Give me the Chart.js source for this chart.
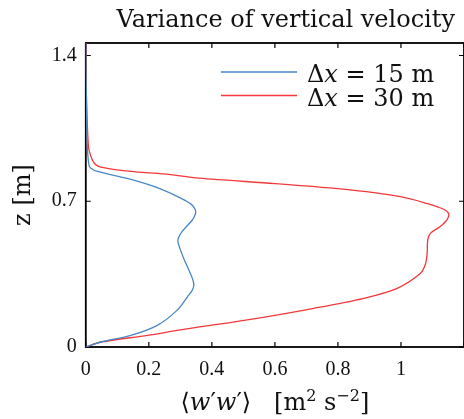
<!DOCTYPE html>
<html>
<head>
<meta charset="utf-8">
<script src="https://cdn.jsdelivr.net/npm/chart.js@4.4.1/dist/chart.umd.min.js"></script>
<style>
  html, body { margin: 0; padding: 0; background: #fff; }
  #wrap { width: 464px; height: 419px; }
</style>
</head>
<body>
<div id="wrap"><canvas id="varianceChart" width="464" height="419"></canvas></div>
<script>
// heights (m) and <w'w'> (m^2 s^-2), dx = 15 m run
var zFine = [0, 0.024, 0.056, 0.104, 0.177, 0.24, 0.273, 0.30, 0.33, 0.37, 0.42, 0.50, 0.525, 0.555, 0.61, 0.64, 0.66, 0.685, 0.715, 0.765, 0.805, 0.843, 0.86, 0.875, 0.93, 1.0, 1.1, 1.2, 1.3, 1.46];
var wwFine = [0, 0.048, 0.143, 0.227, 0.29, 0.322, 0.338, 0.343, 0.338, 0.327, 0.312, 0.293, 0.294, 0.306, 0.338, 0.348, 0.347, 0.335, 0.301, 0.227, 0.143, 0.037, 0.015, 0.01, 0.006, 0.004, 0.003, 0.002, 0.001, 0];

// dx = 30 m run
var zCoarse = [0, 0.024, 0.056, 0.082, 0.13, 0.186, 0.234, 0.282, 0.354, 0.40, 0.45, 0.515, 0.547, 0.579, 0.605, 0.627, 0.642, 0.658, 0.672, 0.688, 0.715, 0.74, 0.762, 0.785, 0.811, 0.831, 0.843, 0.864, 0.884, 0.948, 1.0, 1.1, 1.2, 1.3, 1.46];
var wwCoarse = [0, 0.048, 0.196, 0.30, 0.512, 0.724, 0.882, 0.988, 1.062, 1.078, 1.083, 1.085, 1.094, 1.125, 1.143, 1.151, 1.151, 1.14, 1.118, 1.085, 1.02, 0.92, 0.79, 0.6, 0.359, 0.248, 0.143, 0.048, 0.026, 0.01, 0.007, 0.004, 0.002, 0.001, 0];

var xTicks = [0, 0.2, 0.4, 0.6, 0.8, 1, 1.2];
var zTicks = [0, 0.7, 1.4];
var spacings = ['15', '30'];
var colors = ['#4a87c4', '#f2383c'];

var serif = '"DejaVu Serif", "DejaVu Sans", serif';
var tickFont = { family: '"Liberation Serif", serif', size: 20 };

function toPoints(zs, ws) {
    return zs.map(function (z, i) { return { x: ws[i], y: z }; });
}

// draws a row of text pieces, each with its own font and vertical shift
function drawRuns(ctx, runs, x, y, align) {
    var w = 0;
    runs.forEach(function (r) { ctx.font = r.font; w += ctx.measureText(r.text).width; });
    var cx = align === 'center' ? x - w / 2 : (align === 'right' ? x - w : x);
    ctx.textAlign = 'left';
    ctx.textBaseline = 'alphabetic';
    runs.forEach(function (r) {
        ctx.font = r.font;
        ctx.fillText(r.text, cx, y - (r.rise || 0));
        cx += ctx.measureText(r.text).width;
    });
}

// keep the plot box flush with the tick labels' own space only
function noEdgePadding(s) {
    s.paddingLeft = 0; s.paddingRight = 0;
    s.paddingTop = 0; s.paddingBottom = 0;
}

var reg = '24px ' + serif;
var ital = 'italic 24px ' + serif;
var small = '16px ' + serif;

// box with inward ticks, under the curves
var frame = {
    id: 'frame',
    beforeDatasetsDraw: function (chart) {
        var ctx = chart.ctx, a = chart.chartArea, sx = chart.scales.x, sy = chart.scales.y;
        ctx.save();
        ctx.strokeStyle = '#000';
        ctx.lineWidth = 1.8;
        ctx.strokeRect(a.left, a.top, a.right - a.left, a.bottom - a.top);
        ctx.lineWidth = 1.2;
        ctx.beginPath();
        xTicks.forEach(function (v) {
            var px = sx.getPixelForValue(v);
            ctx.moveTo(px, a.bottom); ctx.lineTo(px, a.bottom - 5);
            ctx.moveTo(px, a.top); ctx.lineTo(px, a.top + 5);
        });
        zTicks.forEach(function (v) {
            var py = sy.getPixelForValue(v);
            ctx.moveTo(a.left, py); ctx.lineTo(a.left + 5, py);
            ctx.moveTo(a.right, py); ctx.lineTo(a.right - 5, py);
        });
        ctx.stroke();
        ctx.restore();
    }
};

// title, legend and x-axis label
var labels = {
    id: 'labels',
    afterDraw: function (chart) {
        var ctx = chart.ctx, a = chart.chartArea;
        ctx.save();
        ctx.fillStyle = '#111';
        drawRuns(ctx, [{ text: 'Variance of vertical velocity', font: reg }], 455, 27, 'right');

        chart.data.datasets.forEach(function (ds, i) {
            var ly = 72 + i * 23.5;
            ctx.strokeStyle = ds.borderColor;
            ctx.lineWidth = 1.4;
            ctx.beginPath();
            ctx.moveTo(221, ly);
            ctx.lineTo(297, ly);
            ctx.stroke();
            drawRuns(ctx, [
                { text: 'Δ', font: reg },
                { text: 'x', font: ital },
                { text: ' = ' + spacings[i] + ' m', font: reg }
            ], 307, ly + 10, 'left');
        });

        drawRuns(ctx, [
            { text: '⟨', font: reg },
            { text: 'w', font: ital },
            { text: '′', font: reg },
            { text: 'w', font: ital },
            { text: '′', font: reg },
            { text: '⟩   [m', font: reg },
            { text: '2', font: small, rise: 9 },
            { text: ' s', font: reg },
            { text: '−2', font: small, rise: 9 },
            { text: ']', font: reg }
        ], (a.left + a.right) / 2, 410, 'center');
        ctx.restore();
    }
};

var ctx = document.getElementById('varianceChart').getContext('2d');

var chart = new Chart(ctx, {
    type: 'scatter',
    data: {
        datasets: [{
            label: 'dx = 15 m',
            data: toPoints(zFine, wwFine),
            borderColor: colors[0],
            borderWidth: 1.3,
            showLine: true,
            tension: 0.3,
            pointRadius: 0
        }, {
            label: 'dx = 30 m',
            data: toPoints(zCoarse, wwCoarse),
            borderColor: colors[1],
            borderWidth: 1.3,
            showLine: true,
            tension: 0.3,
            pointRadius: 0
        }]
    },
    options: {
        responsive: false,
        animation: false,
        devicePixelRatio: 1,
        layout: { padding: { left: 9, top: 43, right: 0, bottom: 26 } },
        plugins: {
            legend: { display: false },
            tooltip: { enabled: false }
        },
        scales: {
            x: {
                type: 'linear',
                min: 0,
                max: 1.2,
                afterBuildTicks: function (s) { s.ticks = xTicks.map(function (v) { return { value: v }; }); },
                afterFit: noEdgePadding,
                ticks: {
                    font: tickFont,
                    color: '#111',
                    padding: 11,
                    maxRotation: 0,
                    autoSkip: false,
                    callback: function (v) { return v > 1.1 ? '' : String(v); }
                },
                grid: { display: false, drawTicks: false },
                border: { display: false }
            },
            y: {
                type: 'linear',
                min: 0,
                max: 1.46,
                afterBuildTicks: function (s) { s.ticks = zTicks.map(function (v) { return { value: v }; }); },
                afterFit: noEdgePadding,
                ticks: {
                    font: tickFont,
                    color: '#111',
                    padding: 9,
                    autoSkip: false,
                    callback: function (v) { return String(v); }
                },
                grid: { display: false, drawTicks: false },
                border: { display: false },
                title: {
                    display: true,
                    text: 'z [m]',
                    color: '#111',
                    font: { family: serif, size: 24 },
                    padding: { top: 0, bottom: 5 }
                }
            }
        }
    },
    plugins: [frame, labels]
});
</script>
</body>
</html>
